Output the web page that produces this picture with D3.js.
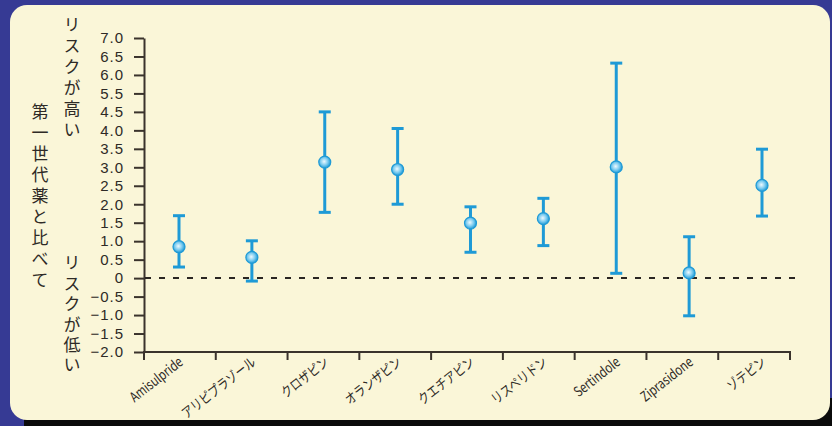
<!DOCTYPE html>
<html>
<head>
<meta charset="utf-8">
<script src="https://cdn.jsdelivr.net/npm/d3@7"></script>
<style>
  html, body { margin: 0; padding: 0; background: #363a94; }
  svg { display: block; }
</style>
</head>
<body>
<svg id="chart" width="832" height="426"></svg>
<script>
// Drug names along the x axis
const categories = ["Amisulpride", "アリピプラゾール", "クロザピン", "オランザピン", "クエチアピン",
                    "リスペリドン", "Sertindole", "Ziprasidone", "ゾテピン"];
// Point estimate and interval bounds per drug
const estimate = [0.85, 0.56, 3.14, 2.94, 1.49, 1.61, 3.01, 0.14, 2.51];
const lower    = [0.30, -0.08, 1.78, 2.00, 0.70, 0.88, 0.13, -1.02, 1.68];
const upper    = [1.69, 1.01, 4.50, 4.05, 1.93, 2.16, 5.82, 1.12, 3.49];
// Y axis tick positions and the labels printed at them
const yTickValues = [-2, -1.5, -1, -0.5, 0, 0.5, 1, 1.5, 2, 2.5, 3, 3.5, 4, 4.5, 5, 5.5, 6, 6.5];
const yTickLabels = ["−2.0", "−1.5", "−1.0", "−0.5", "0", "0.5", "1.0", "1.5", "2.0", "2.5",
                     "3.0", "3.5", "4.0", "4.5", "5.5", "6.0", "6.5", "7.0"];
// Axis titles
const titleMain = "第一世代薬と比べて";
const titleHigh = "リスクが高い";
const titleLow  = "リスクが低い";

const svg = d3.select("#chart");
const W = 832, H = 426;

// Frame: blue backdrop, dark drop shadow, cream rounded panel
svg.append("rect").attr("width", W).attr("height", H).attr("fill", "#363a94");
svg.append("rect").attr("x", 24).attr("y", 398).attr("width", W - 24).attr("height", H - 398).attr("fill", "#0b0b0b");
svg.append("rect").attr("x", 10).attr("y", 5).attr("width", 820).attr("height", 415)
  .attr("rx", 17).attr("ry", 17).attr("fill", "#faf6d8");

const defs = svg.append("defs");
const grad = defs.append("radialGradient").attr("id", "dotGrad")
  .attr("cx", "45%").attr("cy", "45%").attr("r", "55%");
grad.append("stop").attr("offset", "0%").attr("stop-color", "#eef9fe");
grad.append("stop").attr("offset", "55%").attr("stop-color", "#7fcdf0");
grad.append("stop").attr("offset", "100%").attr("stop-color", "#1e9ad6");

const axisColor = "#3a332c";
const textColor = "#2e2a26";
const barColor = "#1e9ad6";

// Scales
const y = d3.scaleLinear().domain([-2, 6.5]).range([352, 38]);
const xBand = d3.scaleBand().domain(categories).range([144, 790]);
const x = d3.scalePoint().domain(categories).range([179, 762]);

// Y axis
const yAxis = d3.axisLeft(y)
  .tickValues(yTickValues)
  .tickFormat((d, i) => yTickLabels[i])
  .tickSize(10)
  .tickSizeOuter(0)
  .tickPadding(10);
const gy = svg.append("g").attr("transform", "translate(144,0)").call(yAxis);
gy.select(".domain").attr("stroke", axisColor).attr("stroke-width", 2);
gy.selectAll(".tick line").attr("stroke", axisColor).attr("stroke-width", 2);
gy.selectAll(".tick text")
  .attr("fill", textColor)
  .style("font-family", "'Liberation Sans Narrow', 'Liberation Sans', Arial, sans-serif")
  .style("font-size", "15px")
  .style("letter-spacing", "1px");

// X axis: baseline with ticks at category boundaries
const boundaries = categories.map(c => xBand(c)).concat([xBand.range()[1]]);
svg.append("line")
  .attr("x1", 143).attr("x2", 791)
  .attr("y1", y(-2)).attr("y2", y(-2))
  .attr("stroke", axisColor).attr("stroke-width", 2);
svg.append("g").selectAll("line").data(boundaries).join("line")
  .attr("x1", d => d).attr("x2", d => d)
  .attr("y1", y(-2)).attr("y2", y(-2) + 8)
  .attr("stroke", axisColor).attr("stroke-width", 2);

// Category labels, slanted and condensed
svg.append("g").selectAll("text").data(categories).join("text")
  .attr("transform", d => `translate(${x(d) + 5},${y(-2) + 12}) rotate(-38) scale(0.8,1)`)
  .attr("text-anchor", "end")
  .attr("fill", textColor)
  .style("font-family", "'Noto Sans CJK JP', sans-serif")
  .style("font-size", "14px")
  .text(d => d);

// Zero reference line
svg.append("line")
  .attr("x1", 145).attr("x2", 797)
  .attr("y1", y(0)).attr("y2", y(0))
  .attr("stroke", "#2a2622").attr("stroke-width", 2)
  .attr("stroke-dasharray", "6,8");

// Error bars and estimate markers
const rows = categories.map((c, i) => ({ c, est: estimate[i], lo: lower[i], hi: upper[i] }));
const g = svg.append("g");
g.selectAll(".whisker").data(rows).join("line").attr("class", "whisker")
  .attr("x1", d => x(d.c)).attr("x2", d => x(d.c))
  .attr("y1", d => y(d.lo)).attr("y2", d => y(d.hi))
  .attr("stroke", barColor).attr("stroke-width", 3);
g.selectAll(".capHi").data(rows).join("line").attr("class", "capHi")
  .attr("x1", d => x(d.c) - 6).attr("x2", d => x(d.c) + 6)
  .attr("y1", d => y(d.hi)).attr("y2", d => y(d.hi))
  .attr("stroke", barColor).attr("stroke-width", 3);
g.selectAll(".capLo").data(rows).join("line").attr("class", "capLo")
  .attr("x1", d => x(d.c) - 6).attr("x2", d => x(d.c) + 6)
  .attr("y1", d => y(d.lo)).attr("y2", d => y(d.lo))
  .attr("stroke", barColor).attr("stroke-width", 3);
g.selectAll(".dot").data(rows).join("circle").attr("class", "dot")
  .attr("cx", d => x(d.c)).attr("cy", d => y(d.est))
  .attr("r", 6)
  .attr("fill", "url(#dotGrad)")
  .attr("stroke", barColor).attr("stroke-width", 1.2);

// Vertical Japanese titles
function verticalText(str, cx, top, spacing) {
  svg.append("text")
    .attr("x", cx)
    .attr("y", top)
    .attr("fill", textColor)
    .style("writing-mode", "vertical-rl")
    .style("font-family", "'Noto Sans CJK JP', sans-serif")
    .style("font-size", "17px")
    .style("letter-spacing", spacing + "px")
    .text(str);
}
verticalText(titleMain, 40, 103.5, 4);
verticalText(titleHigh, 72, 16.5, 4);
verticalText(titleLow, 72, 254.5, 3.4);
</script>
</body>
</html>
